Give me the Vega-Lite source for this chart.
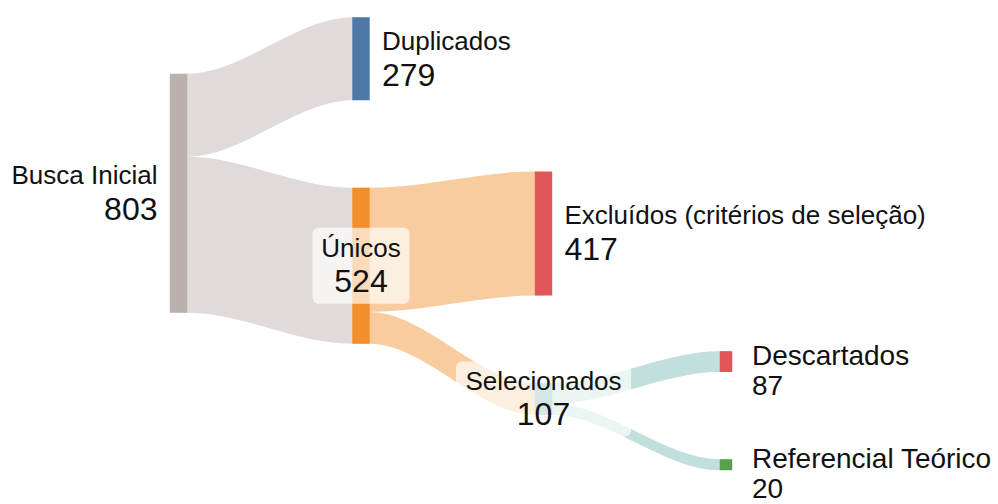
{
  "$schema": "https://vega.github.io/schema/vega-lite/v6.json",
  "autosize": {"type": "fit", "contains": "padding"},
  "width": 998,
  "height": 504,
  "padding": 0,
  "background": "white",
  "config": {"view": {"stroke": null}, "text": {"font": "Liberation Sans", "color": "#111111"}},
  "datasets": {
    "nodes": [
      {"node": "Busca Inicial", "stage": 0, "value": 803, "top": 248, "bottom": 1051, "role": "origem"},
      {"node": "Duplicados", "stage": 1, "value": 279, "top": 58, "bottom": 337, "role": "destino"},
      {"node": "Únicos", "stage": 1, "value": 524, "top": 631, "bottom": 1155, "role": "intermediario"},
      {"node": "Excluídos (critérios de seleção)", "stage": 2, "value": 417, "top": 576, "bottom": 993, "role": "destino"},
      {"node": "Selecionados", "stage": 2, "value": 107, "top": 1287, "bottom": 1394, "role": "intermediario"},
      {"node": "Descartados", "stage": 3, "value": 87, "top": 1180, "bottom": 1250, "role": "destino"},
      {"node": "Referencial Teórico", "stage": 3, "value": 20, "top": 1543, "bottom": 1580, "role": "destino"}
    ],
    "links": [
      {"link": "Busca Inicial → Duplicados", "source": "Busca Inicial", "value": 279, "x": 0, "y0": 248, "y1": 527},
      {"link": "Busca Inicial → Duplicados", "source": "Busca Inicial", "value": 279, "x": 0.0477, "y0": 248, "y1": 527},
      {"link": "Busca Inicial → Duplicados", "source": "Busca Inicial", "value": 279, "x": 0.9523, "y0": 58, "y1": 337},
      {"link": "Busca Inicial → Duplicados", "source": "Busca Inicial", "value": 279, "x": 1, "y0": 58, "y1": 337},
      {"link": "Busca Inicial → Únicos", "source": "Busca Inicial", "value": 524, "x": 0, "y0": 527, "y1": 1051},
      {"link": "Busca Inicial → Únicos", "source": "Busca Inicial", "value": 524, "x": 0.0477, "y0": 527, "y1": 1051},
      {"link": "Busca Inicial → Únicos", "source": "Busca Inicial", "value": 524, "x": 0.9523, "y0": 631, "y1": 1155},
      {"link": "Busca Inicial → Únicos", "source": "Busca Inicial", "value": 524, "x": 1, "y0": 631, "y1": 1155},
      {"link": "Únicos → Excluídos", "source": "Únicos", "value": 417, "x": 1, "y0": 631, "y1": 1048},
      {"link": "Únicos → Excluídos", "source": "Únicos", "value": 417, "x": 1.0477, "y0": 631, "y1": 1048},
      {"link": "Únicos → Excluídos", "source": "Únicos", "value": 417, "x": 1.9523, "y0": 576, "y1": 993},
      {"link": "Únicos → Excluídos", "source": "Únicos", "value": 417, "x": 2, "y0": 576, "y1": 993},
      {"link": "Únicos → Selecionados", "source": "Únicos", "value": 107, "x": 1, "y0": 1048, "y1": 1155},
      {"link": "Únicos → Selecionados", "source": "Únicos", "value": 107, "x": 1.0477, "y0": 1048, "y1": 1155},
      {"link": "Únicos → Selecionados", "source": "Únicos", "value": 107, "x": 1.9523, "y0": 1287, "y1": 1394},
      {"link": "Únicos → Selecionados", "source": "Únicos", "value": 107, "x": 2, "y0": 1287, "y1": 1394},
      {"link": "Selecionados → Descartados", "source": "Selecionados", "value": 87, "x": 2, "y0": 1287, "y1": 1357},
      {"link": "Selecionados → Descartados", "source": "Selecionados", "value": 87, "x": 2.0477, "y0": 1287, "y1": 1357},
      {"link": "Selecionados → Descartados", "source": "Selecionados", "value": 87, "x": 2.9658, "y0": 1180, "y1": 1250},
      {"link": "Selecionados → Descartados", "source": "Selecionados", "value": 87, "x": 3, "y0": 1180, "y1": 1250},
      {"link": "Selecionados → Referencial Teórico", "source": "Selecionados", "value": 20, "x": 2, "y0": 1357, "y1": 1394},
      {"link": "Selecionados → Referencial Teórico", "source": "Selecionados", "value": 20, "x": 2.0477, "y0": 1357, "y1": 1394},
      {"link": "Selecionados → Referencial Teórico", "source": "Selecionados", "value": 20, "x": 2.9658, "y0": 1543, "y1": 1580},
      {"link": "Selecionados → Referencial Teórico", "source": "Selecionados", "value": 20, "x": 3, "y0": 1543, "y1": 1580}
    ]
  },
  "data": {"name": "nodes"},
  "layer": [
    {
      "data": {"name": "links"},
      "mark": {"type": "area", "interpolate": "monotone", "opacity": 0.45},
      "encoding": {
        "x": {"field": "x", "type": "quantitative", "scale": {"domain": [-0.97808, 4.49041], "nice": false, "zero": false}, "axis": null},
        "y": {"field": "y0", "type": "quantitative", "scale": {"domain": [0, 1680], "reverse": true, "nice": false, "zero": false}, "axis": null},
        "y2": {"field": "y1"},
        "detail": {"field": "link"},
        "color": {"field": "source", "type": "nominal", "legend": null,
          "scale": {"domain": ["Busca Inicial", "Duplicados", "Únicos", "Excluídos (critérios de seleção)", "Selecionados", "Descartados", "Referencial Teórico"],
                    "range": ["#bab0ac", "#4e79a7", "#f28e2b", "#e15759", "#76b7b2", "#e15759", "#59a14f"]}}
      }
    },
    {
      "transform": [{"filter": "datum.stage < 3"}],
      "mark": {"type": "rect", "width": 17.4},
      "encoding": {
        "x": {"field": "stage", "type": "quantitative"},
        "y": {"field": "top", "type": "quantitative"},
        "y2": {"field": "bottom"},
        "color": {"field": "node", "type": "nominal", "legend": null}
      }
    },
    {
      "transform": [{"filter": "datum.stage == 3"}],
      "mark": {"type": "rect", "width": 12.5},
      "encoding": {
        "x": {"field": "stage", "type": "quantitative"},
        "y": {"field": "top", "type": "quantitative"},
        "y2": {"field": "bottom"},
        "color": {"field": "node", "type": "nominal", "legend": null}
      }
    },
    {
      "transform": [
        {"fold": ["top", "bottom"], "as": ["edge", "pos"]},
        {"aggregate": [{"op": "mean", "field": "pos", "as": "mid"}], "groupby": ["node", "stage", "value", "role"]},
        {"filter": "datum.node === 'Únicos'"}
      ],
      "mark": {"type": "rect", "width": 97, "height": 76, "fill": "white", "fillOpacity": 0.68, "cornerRadius": 6},
      "encoding": {
        "x": {"field": "stage", "type": "quantitative"},
        "y": {"field": "mid", "type": "quantitative"}
      }
    },
    {
      "transform": [
        {"fold": ["top", "bottom"], "as": ["edge", "pos"]},
        {"aggregate": [{"op": "mean", "field": "pos", "as": "mid"}], "groupby": ["node", "stage", "value", "role"]},
        {"filter": "datum.node === 'Selecionados'"}
      ],
      "mark": {"type": "rect", "width": 175, "height": 75, "fill": "white", "fillOpacity": 0.68, "cornerRadius": 6},
      "encoding": {
        "x": {"field": "stage", "type": "quantitative"},
        "y": {"field": "mid", "type": "quantitative"}
      }
    },
    {
      "transform": [
        {"fold": ["top", "bottom"], "as": ["edge", "pos"]},
        {"aggregate": [{"op": "mean", "field": "pos", "as": "mid"}], "groupby": ["node", "stage", "value", "role"]},
        {"filter": "datum.role === 'origem'"}
      ],
      "layer": [
        {"mark": {"type": "text", "align": "right", "baseline": "alphabetic", "dx": -21, "dy": -9, "fontSize": 26},
         "encoding": {"text": {"field": "node"}}},
        {"mark": {"type": "text", "align": "right", "baseline": "alphabetic", "dx": -21, "dy": 27, "fontSize": 32},
         "encoding": {"text": {"field": "value", "type": "quantitative"}}}
      ],
      "encoding": {
        "x": {"field": "stage", "type": "quantitative"},
        "y": {"field": "mid", "type": "quantitative"}
      }
    },
    {
      "transform": [
        {"fold": ["top", "bottom"], "as": ["edge", "pos"]},
        {"aggregate": [{"op": "mean", "field": "pos", "as": "mid"}], "groupby": ["node", "stage", "value", "role"]},
        {"filter": "datum.role === 'destino' && datum.value >= 100"}
      ],
      "layer": [
        {"mark": {"type": "text", "align": "left", "baseline": "alphabetic", "dx": 21, "dy": -9, "fontSize": 26},
         "encoding": {"text": {"field": "node"}}},
        {"mark": {"type": "text", "align": "left", "baseline": "alphabetic", "dx": 21, "dy": 27, "fontSize": 32},
         "encoding": {"text": {"field": "value", "type": "quantitative"}}}
      ],
      "encoding": {
        "x": {"field": "stage", "type": "quantitative"},
        "y": {"field": "mid", "type": "quantitative"}
      }
    },
    {
      "transform": [
        {"fold": ["top", "bottom"], "as": ["edge", "pos"]},
        {"aggregate": [{"op": "mean", "field": "pos", "as": "mid"}], "groupby": ["node", "stage", "value", "role"]},
        {"filter": "datum.role === 'destino' && datum.value < 100"}
      ],
      "layer": [
        {"mark": {"type": "text", "align": "left", "baseline": "alphabetic", "dx": 26, "dy": 3, "fontSize": 28},
         "encoding": {"text": {"field": "node"}}},
        {"mark": {"type": "text", "align": "left", "baseline": "alphabetic", "dx": 26, "dy": 33, "fontSize": 28},
         "encoding": {"text": {"field": "value", "type": "quantitative"}}}
      ],
      "encoding": {
        "x": {"field": "stage", "type": "quantitative"},
        "y": {"field": "mid", "type": "quantitative"}
      }
    },
    {
      "transform": [
        {"fold": ["top", "bottom"], "as": ["edge", "pos"]},
        {"aggregate": [{"op": "mean", "field": "pos", "as": "mid"}], "groupby": ["node", "stage", "value", "role"]},
        {"filter": "datum.role === 'intermediario'"}
      ],
      "layer": [
        {"mark": {"type": "text", "align": "center", "baseline": "alphabetic", "dy": -9, "fontSize": 26},
         "encoding": {"text": {"field": "node"}}},
        {"mark": {"type": "text", "align": "center", "baseline": "alphabetic", "dy": 26, "fontSize": 32},
         "encoding": {"text": {"field": "value", "type": "quantitative"}}}
      ],
      "encoding": {
        "x": {"field": "stage", "type": "quantitative"},
        "y": {"field": "mid", "type": "quantitative"}
      }
    }
  ]
}
